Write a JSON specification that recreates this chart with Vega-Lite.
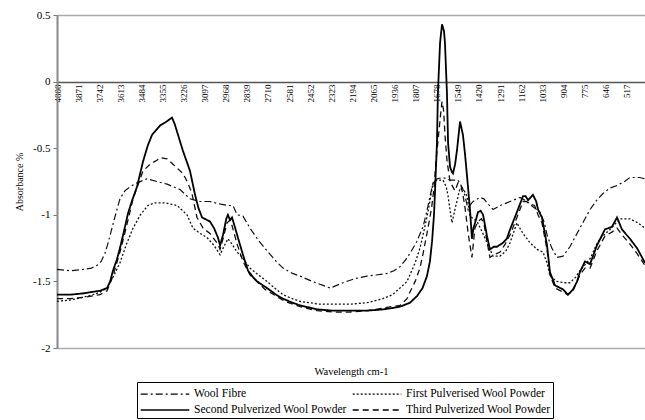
{
  "$schema": "https://vega.github.io/schema/vega-lite/v6.json",
  "autosize": {"type": "none"},
  "width": 588,
  "height": 333,
  "padding": {"left": 57, "top": 15, "right": 0, "bottom": 72},
  "background": "white",
  "config": {"font": "Liberation Serif", "view": {"stroke": null}},
  "datasets": {
    "wool": [{"wn":4000,"abs":-1.41},{"wn":3920,"abs":-1.42},{"wn":3841,"abs":-1.41},{"wn":3790,"abs":-1.40},{"wn":3755,"abs":-1.38},{"wn":3730,"abs":-1.35},{"wn":3707,"abs":-1.29},{"wn":3685,"abs":-1.20},{"wn":3664,"abs":-1.10},{"wn":3640,"abs":-0.99},{"wn":3615,"abs":-0.88},{"wn":3585,"abs":-0.82},{"wn":3554,"abs":-0.79},{"wn":3511,"abs":-0.76},{"wn":3450,"abs":-0.73},{"wn":3389,"abs":-0.75},{"wn":3327,"abs":-0.77},{"wn":3248,"abs":-0.81},{"wn":3187,"abs":-0.88},{"wn":3126,"abs":-0.90},{"wn":3065,"abs":-0.90},{"wn":3000,"abs":-0.92},{"wn":2955,"abs":-0.93},{"wn":2924,"abs":-0.93},{"wn":2910,"abs":-0.97},{"wn":2899,"abs":-1.0},{"wn":2863,"abs":-1.01},{"wn":2820,"abs":-1.10},{"wn":2770,"abs":-1.19},{"wn":2716,"abs":-1.27},{"wn":2660,"abs":-1.35},{"wn":2618,"abs":-1.40},{"wn":2560,"abs":-1.44},{"wn":2514,"abs":-1.46},{"wn":2440,"abs":-1.50},{"wn":2374,"abs":-1.53},{"wn":2330,"abs":-1.55},{"wn":2290,"abs":-1.53},{"wn":2251,"abs":-1.51},{"wn":2180,"abs":-1.48},{"wn":2105,"abs":-1.46},{"wn":2040,"abs":-1.45},{"wn":1982,"abs":-1.44},{"wn":1940,"abs":-1.42},{"wn":1903,"abs":-1.39},{"wn":1870,"abs":-1.34},{"wn":1842,"abs":-1.29},{"wn":1800,"abs":-1.20},{"wn":1762,"abs":-1.09},{"wn":1740,"abs":-0.98},{"wn":1719,"abs":-0.86},{"wn":1701,"abs":-0.76},{"wn":1677,"abs":-0.73},{"wn":1640,"abs":-0.72},{"wn":1597,"abs":-0.74},{"wn":1548,"abs":-0.74},{"wn":1520,"abs":-0.80},{"wn":1505,"abs":-0.86},{"wn":1487,"abs":-0.96},{"wn":1470,"abs":-0.92},{"wn":1456,"abs":-0.90},{"wn":1414,"abs":-0.87},{"wn":1390,"abs":-0.88},{"wn":1371,"abs":-0.91},{"wn":1334,"abs":-0.96},{"wn":1291,"abs":-0.93},{"wn":1230,"abs":-0.90},{"wn":1169,"abs":-0.87},{"wn":1126,"abs":-0.90},{"wn":1090,"abs":-0.94},{"wn":1047,"abs":-0.98},{"wn":1020,"abs":-1.06},{"wn":1004,"abs":-1.15},{"wn":975,"abs":-1.25},{"wn":943,"abs":-1.32},{"wn":906,"abs":-1.31},{"wn":864,"abs":-1.24},{"wn":803,"abs":-1.10},{"wn":741,"abs":-0.96},{"wn":700,"abs":-0.89},{"wn":662,"abs":-0.84},{"wn":620,"abs":-0.80},{"wn":576,"abs":-0.78},{"wn":530,"abs":-0.75},{"wn":497,"abs":-0.72},{"wn":436,"abs":-0.72},{"wn":405,"abs":-0.73}],
    "first": [{"wn":4000,"abs":-1.65},{"wn":3921,"abs":-1.64},{"wn":3841,"abs":-1.62},{"wn":3780,"abs":-1.60},{"wn":3737,"abs":-1.58},{"wn":3694,"abs":-1.55},{"wn":3658,"abs":-1.47},{"wn":3615,"abs":-1.36},{"wn":3575,"abs":-1.22},{"wn":3535,"abs":-1.10},{"wn":3490,"abs":-1.00},{"wn":3444,"abs":-0.93},{"wn":3400,"abs":-0.91},{"wn":3340,"abs":-0.91},{"wn":3266,"abs":-0.93},{"wn":3205,"abs":-1.00},{"wn":3169,"abs":-1.10},{"wn":3125,"abs":-1.14},{"wn":3083,"abs":-1.17},{"wn":3040,"abs":-1.23},{"wn":3003,"abs":-1.30},{"wn":2980,"abs":-1.24},{"wn":2955,"abs":-1.18},{"wn":2930,"abs":-1.22},{"wn":2899,"abs":-1.28},{"wn":2881,"abs":-1.30},{"wn":2820,"abs":-1.40},{"wn":2770,"abs":-1.45},{"wn":2716,"abs":-1.50},{"wn":2660,"abs":-1.56},{"wn":2618,"abs":-1.60},{"wn":2560,"abs":-1.63},{"wn":2514,"abs":-1.65},{"wn":2400,"abs":-1.67},{"wn":2313,"abs":-1.67},{"wn":2200,"abs":-1.67},{"wn":2105,"abs":-1.66},{"wn":2007,"abs":-1.63},{"wn":1950,"abs":-1.60},{"wn":1903,"abs":-1.55},{"wn":1860,"abs":-1.50},{"wn":1842,"abs":-1.45},{"wn":1810,"abs":-1.36},{"wn":1781,"abs":-1.25},{"wn":1760,"abs":-1.14},{"wn":1732,"abs":-0.98},{"wn":1715,"abs":-0.86},{"wn":1701,"abs":-0.76},{"wn":1677,"abs":-0.74},{"wn":1640,"abs":-0.74},{"wn":1620,"abs":-0.79},{"wn":1609,"abs":-0.86},{"wn":1595,"abs":-0.98},{"wn":1585,"abs":-1.06},{"wn":1567,"abs":-0.96},{"wn":1536,"abs":-0.80},{"wn":1510,"abs":-0.82},{"wn":1493,"abs":-0.86},{"wn":1475,"abs":-1.01},{"wn":1432,"abs":-1.05},{"wn":1400,"abs":-1.13},{"wn":1371,"abs":-1.21},{"wn":1334,"abs":-1.31},{"wn":1291,"abs":-1.31},{"wn":1255,"abs":-1.27},{"wn":1230,"abs":-1.21},{"wn":1188,"abs":-1.06},{"wn":1170,"abs":-1.10},{"wn":1151,"abs":-1.14},{"wn":1108,"abs":-1.21},{"wn":1065,"abs":-1.26},{"wn":1029,"abs":-1.28},{"wn":1004,"abs":-1.36},{"wn":986,"abs":-1.46},{"wn":955,"abs":-1.49},{"wn":943,"abs":-1.50},{"wn":900,"abs":-1.51},{"wn":864,"abs":-1.51},{"wn":830,"abs":-1.47},{"wn":803,"abs":-1.42},{"wn":741,"abs":-1.33},{"wn":700,"abs":-1.22},{"wn":680,"abs":-1.18},{"wn":619,"abs":-1.11},{"wn":558,"abs":-1.03},{"wn":497,"abs":-1.03},{"wn":450,"abs":-1.06},{"wn":405,"abs":-1.10}],
    "second": [{"wn":4000,"abs":-1.60},{"wn":3921,"abs":-1.60},{"wn":3841,"abs":-1.59},{"wn":3737,"abs":-1.57},{"wn":3694,"abs":-1.55},{"wn":3675,"abs":-1.50},{"wn":3658,"abs":-1.42},{"wn":3635,"abs":-1.34},{"wn":3615,"abs":-1.25},{"wn":3590,"abs":-1.12},{"wn":3566,"abs":-0.99},{"wn":3540,"abs":-0.89},{"wn":3511,"abs":-0.79},{"wn":3474,"abs":-0.60},{"wn":3445,"abs":-0.48},{"wn":3419,"abs":-0.40},{"wn":3370,"abs":-0.33},{"wn":3330,"abs":-0.30},{"wn":3297,"abs":-0.27},{"wn":3280,"abs":-0.32},{"wn":3260,"abs":-0.40},{"wn":3230,"abs":-0.52},{"wn":3187,"abs":-0.67},{"wn":3156,"abs":-0.85},{"wn":3135,"abs":-0.95},{"wn":3113,"abs":-1.02},{"wn":3065,"abs":-1.05},{"wn":3040,"abs":-1.10},{"wn":3016,"abs":-1.17},{"wn":3003,"abs":-1.23},{"wn":2985,"abs":-1.15},{"wn":2965,"abs":-1.03},{"wn":2955,"abs":-1.0},{"wn":2942,"abs":-1.04},{"wn":2930,"abs":-1.02},{"wn":2915,"abs":-1.08},{"wn":2899,"abs":-1.15},{"wn":2863,"abs":-1.30},{"wn":2832,"abs":-1.42},{"wn":2800,"abs":-1.47},{"wn":2777,"abs":-1.50},{"wn":2716,"abs":-1.55},{"wn":2660,"abs":-1.60},{"wn":2618,"abs":-1.63},{"wn":2560,"abs":-1.66},{"wn":2514,"abs":-1.68},{"wn":2410,"abs":-1.71},{"wn":2313,"abs":-1.72},{"wn":2209,"abs":-1.72},{"wn":2105,"abs":-1.72},{"wn":2007,"abs":-1.71},{"wn":1950,"abs":-1.70},{"wn":1903,"abs":-1.69},{"wn":1842,"abs":-1.66},{"wn":1799,"abs":-1.61},{"wn":1765,"abs":-1.55},{"wn":1738,"abs":-1.46},{"wn":1720,"abs":-1.35},{"wn":1707,"abs":-1.20},{"wn":1695,"abs":-1.0},{"wn":1689,"abs":-0.83},{"wn":1677,"abs":-0.46},{"wn":1671,"abs":-0.08},{"wn":1658,"abs":0.29},{"wn":1646,"abs":0.43},{"wn":1634,"abs":0.38},{"wn":1628,"abs":0.29},{"wn":1616,"abs":-0.08},{"wn":1609,"abs":-0.46},{"wn":1597,"abs":-0.64},{"wn":1585,"abs":-0.68},{"wn":1579,"abs":-0.69},{"wn":1566,"abs":-0.62},{"wn":1554,"abs":-0.51},{"wn":1536,"abs":-0.30},{"wn":1518,"abs":-0.40},{"wn":1505,"abs":-0.55},{"wn":1493,"abs":-0.71},{"wn":1475,"abs":-0.96},{"wn":1463,"abs":-1.18},{"wn":1454,"abs":-1.10},{"wn":1444,"abs":-1.06},{"wn":1426,"abs":-0.98},{"wn":1410,"abs":-0.97},{"wn":1395,"abs":-1.0},{"wn":1371,"abs":-1.16},{"wn":1353,"abs":-1.26},{"wn":1330,"abs":-1.24},{"wn":1310,"abs":-1.24},{"wn":1273,"abs":-1.21},{"wn":1250,"abs":-1.18},{"wn":1230,"abs":-1.11},{"wn":1188,"abs":-0.98},{"wn":1151,"abs":-0.86},{"wn":1135,"abs":-0.86},{"wn":1120,"abs":-0.89},{"wn":1090,"abs":-0.85},{"wn":1070,"abs":-0.90},{"wn":1059,"abs":-0.96},{"wn":1035,"abs":-1.02},{"wn":1020,"abs":-1.12},{"wn":1004,"abs":-1.23},{"wn":986,"abs":-1.43},{"wn":955,"abs":-1.53},{"wn":906,"abs":-1.56},{"wn":876,"abs":-1.60},{"wn":845,"abs":-1.56},{"wn":820,"abs":-1.50},{"wn":803,"abs":-1.43},{"wn":772,"abs":-1.35},{"wn":741,"abs":-1.37},{"wn":720,"abs":-1.30},{"wn":699,"abs":-1.23},{"wn":650,"abs":-1.11},{"wn":607,"abs":-1.09},{"wn":576,"abs":-1.02},{"wn":546,"abs":-1.11},{"wn":497,"abs":-1.18},{"wn":454,"abs":-1.25},{"wn":405,"abs":-1.36}],
    "third": [{"wn":4000,"abs":-1.63},{"wn":3921,"abs":-1.63},{"wn":3841,"abs":-1.62},{"wn":3737,"abs":-1.60},{"wn":3694,"abs":-1.57},{"wn":3658,"abs":-1.46},{"wn":3615,"abs":-1.28},{"wn":3590,"abs":-1.16},{"wn":3566,"abs":-1.04},{"wn":3535,"abs":-0.88},{"wn":3500,"abs":-0.76},{"wn":3474,"abs":-0.67},{"wn":3430,"abs":-0.62},{"wn":3389,"abs":-0.59},{"wn":3370,"abs":-0.57},{"wn":3327,"abs":-0.58},{"wn":3291,"abs":-0.62},{"wn":3230,"abs":-0.69},{"wn":3200,"abs":-0.76},{"wn":3175,"abs":-0.84},{"wn":3144,"abs":-1.02},{"wn":3107,"abs":-1.10},{"wn":3065,"abs":-1.14},{"wn":3016,"abs":-1.22},{"wn":3003,"abs":-1.26},{"wn":2985,"abs":-1.18},{"wn":2960,"abs":-1.06},{"wn":2942,"abs":-1.04},{"wn":2930,"abs":-1.08},{"wn":2899,"abs":-1.22},{"wn":2863,"abs":-1.35},{"wn":2820,"abs":-1.45},{"wn":2770,"abs":-1.51},{"wn":2728,"abs":-1.56},{"wn":2660,"abs":-1.61},{"wn":2606,"abs":-1.65},{"wn":2514,"abs":-1.69},{"wn":2410,"abs":-1.72},{"wn":2313,"abs":-1.73},{"wn":2209,"abs":-1.73},{"wn":2105,"abs":-1.72},{"wn":2007,"abs":-1.70},{"wn":1903,"abs":-1.68},{"wn":1860,"abs":-1.63},{"wn":1842,"abs":-1.58},{"wn":1810,"abs":-1.50},{"wn":1781,"abs":-1.40},{"wn":1760,"abs":-1.28},{"wn":1732,"abs":-1.10},{"wn":1710,"abs":-0.95},{"wn":1695,"abs":-0.80},{"wn":1683,"abs":-0.60},{"wn":1671,"abs":-0.45},{"wn":1655,"abs":-0.25},{"wn":1646,"abs":-0.15},{"wn":1636,"abs":-0.22},{"wn":1628,"abs":-0.40},{"wn":1615,"abs":-0.60},{"wn":1597,"abs":-0.75},{"wn":1567,"abs":-0.82},{"wn":1548,"abs":-0.76},{"wn":1530,"abs":-0.78},{"wn":1518,"abs":-0.85},{"wn":1505,"abs":-0.95},{"wn":1485,"abs":-1.15},{"wn":1463,"abs":-1.32},{"wn":1445,"abs":-1.10},{"wn":1426,"abs":-1.05},{"wn":1405,"abs":-1.03},{"wn":1389,"abs":-1.07},{"wn":1371,"abs":-1.20},{"wn":1353,"abs":-1.32},{"wn":1330,"abs":-1.30},{"wn":1291,"abs":-1.28},{"wn":1260,"abs":-1.22},{"wn":1230,"abs":-1.15},{"wn":1188,"abs":-1.02},{"wn":1151,"abs":-0.90},{"wn":1130,"abs":-0.90},{"wn":1108,"abs":-0.92},{"wn":1080,"abs":-0.93},{"wn":1059,"abs":-1.00},{"wn":1035,"abs":-1.06},{"wn":1004,"abs":-1.26},{"wn":986,"abs":-1.45},{"wn":955,"abs":-1.55},{"wn":906,"abs":-1.58},{"wn":876,"abs":-1.60},{"wn":845,"abs":-1.57},{"wn":803,"abs":-1.45},{"wn":772,"abs":-1.40},{"wn":741,"abs":-1.40},{"wn":699,"abs":-1.27},{"wn":650,"abs":-1.16},{"wn":607,"abs":-1.13},{"wn":576,"abs":-1.10},{"wn":546,"abs":-1.15},{"wn":497,"abs":-1.22},{"wn":454,"abs":-1.29},{"wn":405,"abs":-1.38}]
  },
  "encoding": {
    "x": {
      "field": "wn", "type": "quantitative",
      "scale": {"domain": [405, 4000], "reverse": true, "nice": false, "zero": false},
      "axis": {
        "orient": "bottom", "offset": -266,
        "values": [4000,3871,3742,3613,3484,3355,3226,3097,2968,2839,2710,2581,2452,2323,2194,2065,1936,1807,1678,1549,1420,1291,1162,1033,904,775,646,517],
        "labelExpr": "'' + datum.value",
        "labelAngle": -90, "labelAlign": "right", "labelBaseline": "middle",
        "labelFont": "Liberation Serif", "labelFontSize": 9, "labelColor": "#000", "labelPadding": 2,
        "labelOverlap": false, "labelBound": false, "labelFlush": false,
        "ticks": false, "grid": false,
        "domainColor": "#555", "domainWidth": 1.5,
        "title": "Wavelength cm-1", "titleY": 289, "titleBaseline": "middle",
        "titleFont": "Liberation Serif", "titleFontSize": 10.5, "titleFontWeight": "normal", "titleColor": "#000"
      }
    },
    "y": {
      "field": "abs", "type": "quantitative",
      "scale": {"domain": [-2, 0.5], "nice": false, "zero": false},
      "axis": {
        "values": [0.5, 0, -0.5, -1, -1.5, -2],
        "labelExpr": "'' + datum.value",
        "labelFont": "Liberation Serif", "labelFontSize": 11, "labelColor": "#000", "labelPadding": 3,
        "tickSize": 4, "tickColor": "#777",
        "domainColor": "#888", "domainWidth": 2,
        "grid": true, "gridColor": "#aaa", "gridWidth": 1.5,
        "gridOpacity": {"condition": {"test": "datum.value === 0.5 || datum.value === -2", "value": 1}, "value": 0},
        "title": "Absorbance %", "titleFont": "Liberation Serif", "titleFontSize": 10, "titleFontWeight": "normal", "titleColor": "#000", "titlePadding": 8
      }
    },
    "strokeDash": {
      "type": "nominal",
      "scale": {
        "domain": ["Wool Fibre", "First Pulverised Wool Powder", "Second Pulverized Wool Powder", "Third Pulverized Wool Powder"],
        "range": [[7, 3, 2, 3], [2, 2], [1, 0], [6, 4]]
      },
      "legend": {
        "orient": "none", "legendX": 80, "legendY": 367, "direction": "horizontal",
        "title": null, "columns": 2, "symbolType": "M-2.7,0H2.7", "symbolSize": 324,
        "symbolStrokeColor": "#000", "symbolStrokeWidth": 1.3, "symbolFillColor": "transparent",
        "symbolOffset": 16, "labelOffset": 19,
        "strokeColor": "#000", "padding": 2, "columnPadding": 3, "rowPadding": 0,
        "labelFont": "Liberation Serif", "labelFontSize": 11.6, "labelColor": "#000"
      }
    }
  },
  "layer": [
    {"data": {"name": "wool"}, "mark": {"type": "line", "color": "#111", "strokeWidth": 1.2}, "encoding": {"strokeDash": {"datum": "Wool Fibre"}}},
    {"data": {"name": "first"}, "mark": {"type": "line", "color": "#111", "strokeWidth": 1.3}, "encoding": {"strokeDash": {"datum": "First Pulverised Wool Powder"}}},
    {"data": {"name": "third"}, "mark": {"type": "line", "color": "#111", "strokeWidth": 1.3}, "encoding": {"strokeDash": {"datum": "Third Pulverized Wool Powder"}}},
    {"data": {"name": "second"}, "mark": {"type": "line", "color": "#000", "strokeWidth": 1.8}, "encoding": {"strokeDash": {"datum": "Second Pulverized Wool Powder"}}}
  ]
}
